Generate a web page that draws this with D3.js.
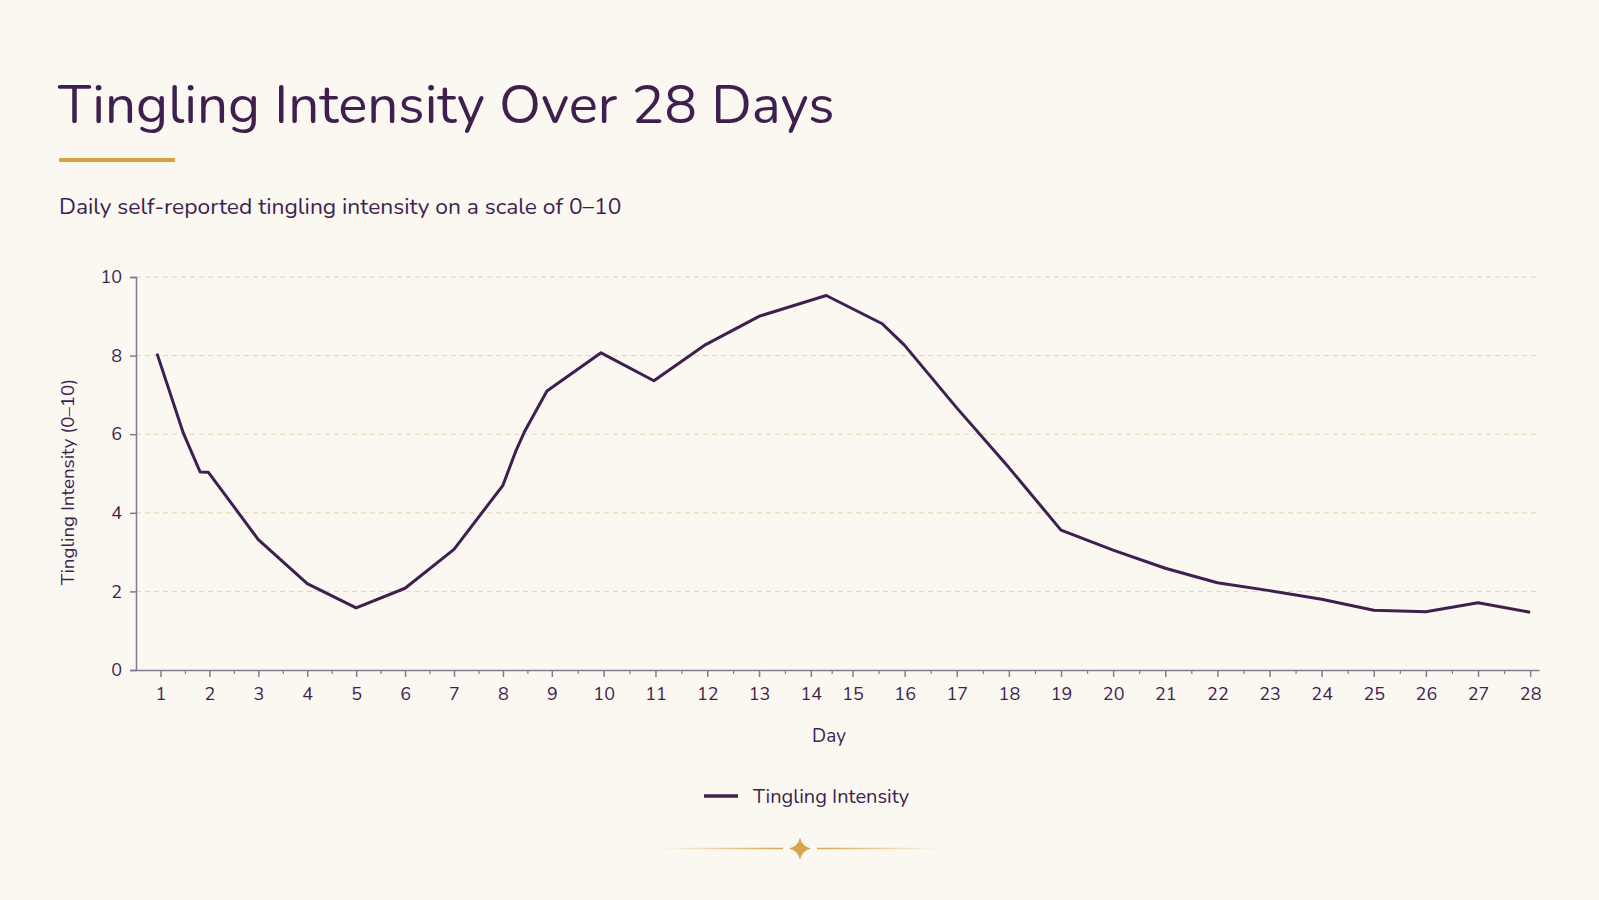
<!DOCTYPE html>
<html>
<head>
<meta charset="utf-8">
<script src="https://cdn.jsdelivr.net/npm/d3@7"></script>
<style>
  html, body { margin: 0; padding: 0; background: #fbf7f1; }
  svg { display: block; }
  text { font-family: "Nunito", "Lato", "Open Sans", sans-serif; }
</style>
</head>
<body>
<div id="chart"></div>
<script>
// data
const days = [0.93, 1.47, 1.81, 1.98, 3, 4, 5, 6, 7, 8, 8.27, 8.44, 8.9, 9.95, 10.97, 11.97, 13, 14.37, 15.57, 16, 17, 18, 19, 20, 21, 22, 23, 24, 25, 26, 27, 28];
const intensity = [8.05, 6.02, 5.04, 5.03, 3.32, 2.2, 1.58, 2.08, 3.07, 4.7, 5.59, 6.06, 7.1, 8.07, 7.36, 8.28, 9.0, 9.53, 8.81, 8.26, 6.67, 5.15, 3.56, 3.05, 2.59, 2.22, 2.02, 1.8, 1.52, 1.48, 1.71, 1.47];
const dayTicks = d3.range(1, 29);
const dayMinorTicks = d3.range(1.5, 28, 1);
const yTicks = [0, 2, 4, 6, 8, 10];

const title = "Tingling Intensity Over 28 Days";
const subtitle = "Daily self-reported tingling intensity on a scale of 0–10";
const xTitle = "Day";
const yTitle = "Tingling Intensity (0–10)";
const seriesName = "Tingling Intensity";

const W = 1599, H = 900;
const ink = "#3e1f4f", gold = "#d6a54b", axisCol = "#857a96";
const margin = { top: 277, left: 136, right: 60, bottom: 230 };
const width = W - margin.left - margin.right,
  height = H - margin.top - margin.bottom;

const svg = d3.select("#chart").append("svg")
  .attr("width", W).attr("height", H);

svg.append("rect").attr("width", W).attr("height", H).attr("fill", "#fbf7f1");

// title block
svg.append("text")
  .attr("x", 58).attr("y", 123)
  .attr("font-size", 54.7).attr("fill", ink)
  .text(title);
svg.append("rect")
  .attr("x", 59).attr("y", 158).attr("width", 116).attr("height", 4)
  .attr("fill", gold);
svg.append("text")
  .attr("x", 59).attr("y", 214)
  .attr("font-size", 22.8).attr("fill", ink)
  .text(subtitle);

// the x axis is not evenly spaced in the source, so use a piecewise scale
const xBreaks = [0.5, 9, 14, 15, 28.17];
const xBreakFrac = [0, 0.2964, 0.4810, 0.5107, 1];
const x = d3.scaleLinear()
  .domain(xBreaks)
  .range(xBreakFrac.map((f) => f * width));
const y = d3.scaleLinear().domain([0, 10]).range([height, 0]);

const g = svg.append("g")
  .attr("transform", "translate(" + margin.left + "," + margin.top + ")");

// grid
g.append("g").selectAll("line")
  .data(yTicks.filter((d) => d > 0))
  .enter().append("line")
  .attr("x1", 0).attr("x2", width)
  .attr("y1", (d) => y(d)).attr("y2", (d) => y(d))
  .attr("stroke", "#e8d3a8").attr("stroke-width", 1)
  .attr("stroke-dasharray", "5,4");

// y axis
const yAxis = g.append("g")
  .call(d3.axisLeft(y).tickValues(yTicks).tickSize(6).tickPadding(8));
yAxis.select(".domain").attr("stroke", axisCol).attr("stroke-width", 1.5);
yAxis.selectAll(".tick line").attr("stroke", axisCol).attr("stroke-width", 1.5);
yAxis.selectAll("text").attr("fill", ink).attr("font-size", 18)
  .style("font-family", "\"Nunito\", \"Lato\", sans-serif");

// x axis, minor ticks first
const xMinor = g.append("g")
  .attr("transform", "translate(0," + height + ")")
  .call(d3.axisBottom(x).tickValues(dayMinorTicks).tickSize(4).tickFormat(""));
xMinor.select(".domain").remove();
xMinor.selectAll(".tick line").attr("stroke", axisCol).attr("stroke-width", 1.2);

const xAxis = g.append("g")
  .attr("transform", "translate(0," + height + ")")
  .call(d3.axisBottom(x).tickValues(dayTicks).tickSize(7).tickSizeOuter(0).tickPadding(10));
xAxis.select(".domain").attr("stroke", axisCol).attr("stroke-width", 1.5);
xAxis.selectAll(".tick line").attr("stroke", axisCol).attr("stroke-width", 1.5);
xAxis.selectAll("text").attr("fill", ink).attr("font-size", 18)
  .style("font-family", "\"Nunito\", \"Lato\", sans-serif");

// axis titles
svg.append("text")
  .attr("x", 829).attr("y", 742)
  .attr("text-anchor", "middle")
  .attr("font-size", 19).attr("fill", ink)
  .text(xTitle);
svg.append("text")
  .attr("transform", "translate(74,482) rotate(-90)")
  .attr("text-anchor", "middle")
  .attr("font-size", 18.8).attr("fill", ink)
  .text(yTitle);

// the line
const points = days.map((d, i) => ({ day: d, value: intensity[i] }));
const line = d3.line()
  .x((d) => x(d.day))
  .y((d) => y(d.value))
  .curve(d3.curveLinear);
g.append("path")
  .attr("d", line(points))
  .attr("fill", "none")
  .attr("stroke", ink)
  .attr("stroke-width", 3)
  .attr("stroke-linejoin", "round");

// legend
const legend = svg.append("g").attr("transform", "translate(704,796)");
legend.append("line")
  .attr("x1", 0).attr("x2", 34).attr("y1", 0).attr("y2", 0)
  .attr("stroke", ink).attr("stroke-width", 3.5);
legend.append("text")
  .attr("x", 49).attr("y", 7)
  .attr("font-size", 20).attr("fill", ink)
  .text(seriesName);

// ornament at the bottom
const defs = svg.append("defs");
const gl = defs.append("linearGradient").attr("id", "fadeL");
gl.append("stop").attr("offset", "0").attr("stop-color", gold).attr("stop-opacity", 0);
gl.append("stop").attr("offset", "1").attr("stop-color", gold).attr("stop-opacity", 1);
const gr = defs.append("linearGradient").attr("id", "fadeR");
gr.append("stop").attr("offset", "0").attr("stop-color", gold).attr("stop-opacity", 1);
gr.append("stop").attr("offset", "1").attr("stop-color", gold).attr("stop-opacity", 0);

const orn = svg.append("g").attr("transform", "translate(800,848.5)");
orn.append("rect").attr("x", -140).attr("y", -0.75).attr("width", 123).attr("height", 1.5)
  .attr("fill", "url(#fadeL)");
orn.append("rect").attr("x", 17).attr("y", -0.75).attr("width", 123).attr("height", 1.5)
  .attr("fill", "url(#fadeR)");
orn.append("path")
  .attr("d", "M0,-11 Q2,-2 11,0 Q2,2 0,11 Q-2,2 -11,0 Q-2,-2 0,-11 Z")
  .attr("fill", gold);
</script>
</body>
</html>
